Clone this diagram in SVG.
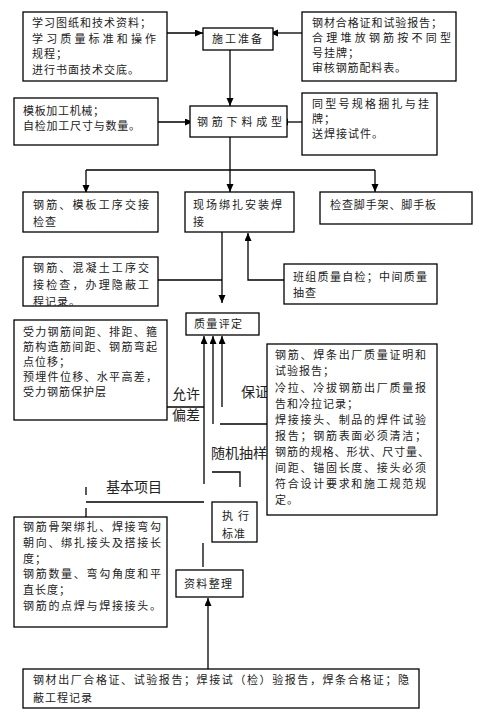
<svg xmlns="http://www.w3.org/2000/svg" width="481" height="715" viewBox="0 0 481 715">
<defs>
<style>
.b{fill:#fff;stroke:#000;stroke-width:1.3}
.t{font-family:"Noto Sans CJK SC","Noto Sans",sans-serif;font-size:11px;letter-spacing:1px;fill:#222}
.l{font-family:"Noto Sans CJK SC","Noto Sans",sans-serif;font-size:14px;fill:#222}
.c{fill:none;stroke:#000;stroke-width:1.3}
</style>
<marker id="a" markerUnits="userSpaceOnUse" markerWidth="8" markerHeight="8" refX="8" refY="3.5" orient="auto"><path d="M0,0 L8,3.5 L0,7 z" fill="#000"/></marker>
<clipPath id="cp1"><rect x="23" y="257" width="135" height="49"/></clipPath>
</defs>
<rect width="481" height="715" fill="#fff"/>
<g id="labels">
<text class="l" x="172" y="399">允许</text>
<text class="l" x="172" y="420">偏差</text>
<text class="l" x="241" y="397">保证</text>
<text class="l" x="211" y="458">随机抽样</text>
<text class="l" x="106" y="492">基本项目</text>
</g>
<g id="connectors">
<line class="c" x1="167" y1="33" x2="203" y2="33" marker-end="url(#a)"/>
<line class="c" x1="302" y1="33" x2="270" y2="33" marker-end="url(#a)"/>
<line class="c" x1="230" y1="50" x2="230" y2="106" marker-end="url(#a)"/>
<line class="c" x1="158" y1="122" x2="193" y2="122" marker-end="url(#a)"/>
<line class="c" x1="302" y1="122" x2="280" y2="122" marker-end="url(#a)"/>
<line class="c" x1="230" y1="137" x2="230" y2="170"/>
<line class="c" x1="86" y1="170" x2="375" y2="170"/>
<line class="c" x1="86" y1="170" x2="86" y2="193" marker-end="url(#a)"/>
<line class="c" x1="230" y1="170" x2="230" y2="192" marker-end="url(#a)"/>
<line class="c" x1="375" y1="170" x2="375" y2="192" marker-end="url(#a)"/>
<line class="c" x1="222" y1="232" x2="222" y2="303" marker-end="url(#a)"/>
<line class="c" x1="158" y1="280" x2="222" y2="280"/>
<polyline class="c" points="284,280 248,280 248,233" marker-end="url(#a)"/>
<line class="c" x1="204" y1="484" x2="204" y2="336" marker-end="url(#a)"/>
<line class="c" x1="213" y1="424" x2="213" y2="336" marker-end="url(#a)"/>
<line class="c" x1="222" y1="407" x2="222" y2="336" marker-end="url(#a)"/>
<line class="c" x1="167" y1="407" x2="204" y2="407"/>
<line class="c" x1="220" y1="424" x2="267" y2="424"/>
<polyline class="c" points="212,472 240,472 240,487"/>
<line class="c" x1="86" y1="502" x2="204" y2="502"/>
<line class="c" x1="86" y1="487" x2="86" y2="495"/>
<line class="c" x1="86" y1="508" x2="86" y2="517"/>
<line class="c" x1="203" y1="543" x2="203" y2="567"/>
<line class="c" x1="208" y1="669" x2="208" y2="598" marker-end="url(#a)"/>
</g>
<g id="n1">
<rect class="b" x="23" y="12" width="144" height="69"/>
<text class="t" x="32" y="27" textLength="120" lengthAdjust="spacing">学习图纸和技术资料；</text>
<text class="t" x="32" y="43" textLength="125" lengthAdjust="spacing">学习质量标准和操作</text>
<text class="t" x="32" y="58">规程；</text>
<text class="t" x="32" y="74" textLength="108" lengthAdjust="spacing">进行书面技术交底。</text>
</g>
<g id="n2">
<rect class="b" x="203" y="28" width="70" height="22"/>
<text class="t" x="212" y="43" textLength="51" lengthAdjust="spacing">施工准备</text>
</g>
<g id="n3">
<rect class="b" x="302" y="12" width="154" height="69"/>
<text class="t" x="312" y="27" textLength="131" lengthAdjust="spacing">钢材合格证和试验报告；</text>
<text class="t" x="312" y="42" textLength="140" lengthAdjust="spacing">合理堆放钢筋按不同型</text>
<text class="t" x="312" y="57">号挂牌；</text>
<text class="t" x="312" y="72" textLength="95" lengthAdjust="spacing">审核钢筋配料表。</text>
</g>
<g id="n4">
<rect class="b" x="14" y="98" width="144" height="47"/>
<text class="t" x="23" y="115" textLength="82" lengthAdjust="spacing">模板加工机械；</text>
<text class="t" x="23" y="130" textLength="118" lengthAdjust="spacing">自检加工尺寸与数量。</text>
</g>
<g id="n5">
<rect class="b" x="190" y="106" width="97" height="31"/>
<text class="t" x="197" y="126" textLength="86" lengthAdjust="spacing">钢筋下料成型</text>
</g>
<g id="n6">
<rect class="b" x="302" y="93" width="135" height="62"/>
<text class="t" x="312" y="108" textLength="118" lengthAdjust="spacing">同型号规格捆扎与挂</text>
<text class="t" x="312" y="123">牌；</text>
<text class="t" x="312" y="138" textLength="72" lengthAdjust="spacing">送焊接试件。</text>
</g>
<g id="n7">
<rect class="b" x="23" y="192" width="135" height="40"/>
<text class="t" x="33" y="209" textLength="117" lengthAdjust="spacing">钢筋、模板工序交接</text>
<text class="t" x="33" y="226">检查</text>
</g>
<g id="n8">
<rect class="b" x="185" y="192" width="109" height="40"/>
<text class="t" x="193" y="209" textLength="90" lengthAdjust="spacing">现场绑扎安装焊</text>
<text class="t" x="193" y="226">接</text>
</g>
<g id="n9">
<rect class="b" x="320" y="192" width="152" height="32"/>
<text class="t" x="330" y="209" textLength="107" lengthAdjust="spacing">检查脚手架、脚手板</text>
</g>
<g id="n10">
<rect class="b" x="23" y="257" width="135" height="49"/>
<g clip-path="url(#cp1)">
<text class="t" x="33" y="272" textLength="117" lengthAdjust="spacing">钢筋、混凝土工序交</text>
<text class="t" x="33" y="289" textLength="117" lengthAdjust="spacing">接检查，办理隐蔽工</text>
<text class="t" x="33" y="306">程记录。</text>
</g>
</g>
<g id="n11">
<rect class="b" x="284" y="264" width="153" height="40"/>
<text class="t" x="293" y="281" textLength="135" lengthAdjust="spacing">班组质量自检；中间质量</text>
<text class="t" x="293" y="297">抽查</text>
</g>
<g id="n12">
<rect class="b" x="186" y="313" width="73" height="22"/>
<text class="t" x="194" y="328" textLength="49" lengthAdjust="spacing">质量评定</text>
</g>
<g id="n13">
<rect class="b" x="14" y="320" width="153" height="100"/>
<text class="t" x="23" y="336" textLength="135" lengthAdjust="spacing">受力钢筋间距、排距、箍</text>
<text class="t" x="23" y="351" textLength="135" lengthAdjust="spacing">筋构造筋间距、钢筋弯起</text>
<text class="t" x="23" y="366">点位移；</text>
<text class="t" x="23" y="381" textLength="135" lengthAdjust="spacing">预埋件位移、水平高差，</text>
<text class="t" x="23" y="396" textLength="84" lengthAdjust="spacing">受力钢筋保护层</text>
</g>
<g id="n14">
<rect class="b" x="267" y="344" width="170" height="171"/>
<text class="t" x="275" y="359" textLength="152" lengthAdjust="spacing">钢筋、焊条出厂质量证明和</text>
<text class="t" x="275" y="375">试验报告；</text>
<text class="t" x="275" y="392" textLength="152" lengthAdjust="spacing">冷拉、冷拔钢筋出厂质量报</text>
<text class="t" x="275" y="408">告和冷拉记录；</text>
<text class="t" x="275" y="424" textLength="152" lengthAdjust="spacing">焊接接头、制品的焊件试验</text>
<text class="t" x="275" y="440" textLength="152" lengthAdjust="spacing">报告；钢筋表面必须清洁；</text>
<text class="t" x="275" y="456" textLength="155" lengthAdjust="spacing">钢筋的规格、形状、尺寸量、</text>
<text class="t" x="275" y="472" textLength="152" lengthAdjust="spacing">间距、锚固长度、接头必须</text>
<text class="t" x="275" y="488" textLength="152" lengthAdjust="spacing">符合设计要求和施工规范规</text>
<text class="t" x="275" y="504">定。</text>
</g>
<g id="n15">
<rect class="b" x="212" y="502" width="45" height="40"/>
<text class="t" x="222" y="520" textLength="28" lengthAdjust="spacing">执行</text>
<text class="t" x="222" y="538">标准</text>
</g>
<g id="n16">
<rect class="b" x="14" y="517" width="153" height="110"/>
<text class="t" x="23" y="531" textLength="139" lengthAdjust="spacing">钢筋骨架绑扎、焊接弯勾</text>
<text class="t" x="23" y="547" textLength="139" lengthAdjust="spacing">朝向、绑扎接头及搭接长</text>
<text class="t" x="23" y="563">度；</text>
<text class="t" x="23" y="578" textLength="139" lengthAdjust="spacing">钢筋数量、弯勾角度和平</text>
<text class="t" x="23" y="594">直长度；</text>
<text class="t" x="23" y="610" textLength="139" lengthAdjust="spacing">钢筋的点焊与焊接接头。</text>
</g>
<g id="n17">
<rect class="b" x="176" y="570" width="67" height="27"/>
<text class="t" x="184" y="588" textLength="49" lengthAdjust="spacing">资料整理</text>
</g>
<g id="n18">
<rect class="b" x="23" y="669" width="396" height="39"/>
<text class="t" x="33" y="684" textLength="377" lengthAdjust="spacing">钢材出厂合格证、试验报告；焊接试（检）验报告，焊条合格证；隐</text>
<text class="t" x="33" y="702">蔽工程记录</text>
</g>
</svg>
